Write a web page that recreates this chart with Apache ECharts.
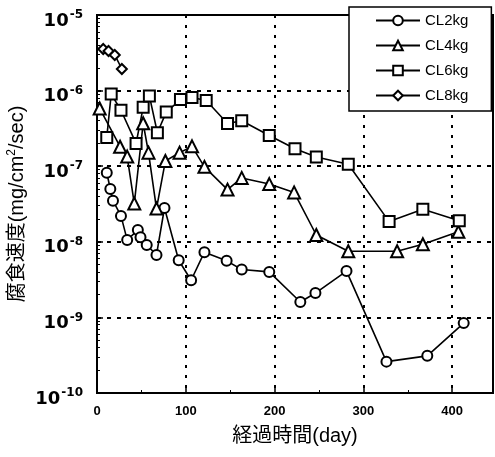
<!DOCTYPE html>
<html>
<head>
<meta charset="utf-8">
<script src="https://cdn.jsdelivr.net/npm/echarts@6/dist/echarts.min.js"></script>
<style>
  html, body { margin: 0; padding: 0; background: #fff; }
  #chart { width: 495px; height: 457px; }
</style>
</head>
<body>
<div id="chart"></div>
<script>
// values (day, mg/cm2/sec)
var cl2Days = [11, 15, 18, 27, 34, 46, 49, 56, 67, 76, 92, 106, 121, 146, 163, 194, 229, 246, 281, 326, 372, 413];
var cl2Vals = [8.2e-8, 5.0e-8, 3.5e-8, 2.2e-8, 1.06e-8, 1.43e-8, 1.15e-8, 9.1e-9, 6.7e-9, 2.8e-8, 5.7e-9, 3.1e-9,
               7.3e-9, 5.6e-9, 4.3e-9, 4.0e-9, 1.6e-9, 2.1e-9, 4.1e-9, 2.6e-10, 3.1e-10, 8.4e-10];

var cl4Days = [3, 26, 34, 42, 52, 58, 67, 77, 93, 107, 121, 147, 163, 194, 222, 247, 283, 338, 367, 407];
var cl4Vals = [5.8e-7, 1.81e-7, 1.34e-7, 3.2e-8, 3.7e-7, 1.51e-7, 2.75e-8, 1.17e-7, 1.51e-7, 1.83e-7,
               9.8e-8, 4.9e-8, 7.0e-8, 5.8e-8, 4.5e-8, 1.23e-8, 7.5e-9, 7.5e-9, 9.3e-9, 1.36e-8];

var cl6Days = [11, 16, 27, 44, 52, 59, 68, 78, 94, 107, 123, 147, 163, 194, 223, 247, 283, 329, 367, 408];
var cl6Vals = [2.4e-7, 9.0e-7, 5.5e-7, 2.0e-7, 6.0e-7, 8.5e-7, 2.77e-7, 5.2e-7, 7.6e-7, 8.1e-7,
               7.4e-7, 3.67e-7, 4.0e-7, 2.55e-7, 1.7e-7, 1.32e-7, 1.06e-7, 1.85e-8, 2.7e-8, 1.9e-8];

var cl8Days = [7, 13, 20, 28];
var cl8Vals = [3.55e-6, 3.34e-6, 2.96e-6, 1.93e-6];

var xTicks = [0, 100, 200, 300, 400];
var yDecades = [-10, -9, -8, -7, -6, -5];

var FONT = "'Liberation Sans', 'Noto Sans CJK JP', sans-serif";
var NUMFONT = "'DejaVu Sans', sans-serif";

// minor log ticks (2..9 within each decade), placed on a helper axis in exponent units
var minorTicks = [];
for (var e = yDecades[0]; e < yDecades[yDecades.length - 1]; e++) {
  for (var k = 2; k <= 9; k++) minorTicks.push(e + Math.log10(k));
}

function mkSeries(name, days, vals, symbol, size) {
  return {
    name: name,
    type: 'line',
    data: days.map(function (d, i) { return [d, vals[i]]; }),
    symbol: symbol,
    symbolSize: size,
    showSymbol: true,
    lineStyle: { color: '#000', width: 1.6 },
    itemStyle: { color: '#fff', borderColor: '#000', borderWidth: 2 },
    emphasis: { disabled: true },
    animation: false
  };
}

var chart = echarts.init(document.getElementById('chart'));
chart.setOption({
  backgroundColor: '#fff',
  textStyle: { fontFamily: FONT },
  grid: {
    left: 97, right: 2, top: 15, bottom: 64,
    outerBoundsMode: 'none', containLabel: false,
    show: true, borderColor: '#000', borderWidth: 2, backgroundColor: 'transparent'
  },
  legend: {
    orient: 'vertical',
    left: 349, top: 7,
    padding: [6, 23, 8, 26],
    itemWidth: 44, itemHeight: 12, itemGap: 10,
    backgroundColor: '#fff', borderColor: '#000', borderWidth: 1.5,
    textStyle: { fontSize: 15, color: '#000', fontFamily: FONT },
    data: ['CL2kg', 'CL4kg', 'CL6kg', 'CL8kg']
  },
  xAxis: {
    type: 'value',
    min: 0, max: 446, interval: 100,
    name: '経過時間(day)',
    nameLocation: 'middle',
    nameGap: 33,
    nameMoveOverlap: false,
    nameTextStyle: { fontSize: 20, color: '#000', fontFamily: FONT },
    axisLine: { lineStyle: { color: '#000', width: 2 } },
    axisTick: { inside: true, length: 5, lineStyle: { color: '#000', width: 1.5 } },
    minorTick: { show: true, splitNumber: 2, length: 3, lineStyle: { color: '#000' } },
    axisLabel: {
      margin: 12, fontSize: 13, fontWeight: 'bold', color: '#000', showMaxLabel: false,
      formatter: function (v) { return xTicks.indexOf(v) >= 0 ? String(v) : ''; }
    },
    splitLine: { show: true, lineStyle: { color: '#000', width: 2, type: [3, 7] } }
  },
  yAxis: [{
    type: 'log',
    logBase: 10,
    min: 1e-10, max: 1e-5,
    name: '腐食速度(mg/cm{sup|2}/sec)',
    nameLocation: 'middle',
    nameRotate: 90,
    nameGap: 69,
    nameMoveOverlap: false,
    nameTextStyle: {
      fontSize: 20, color: '#000', fontFamily: FONT,
      rich: { sup: { fontSize: 12, color: '#000', padding: [0, 0, 10, 0], fontFamily: FONT } }
    },
    axisLine: { show: true, lineStyle: { color: '#000', width: 2 } },
    axisTick: { inside: true, length: 6, lineStyle: { color: '#000', width: 1.5 } },
    axisLabel: {
      margin: 14, color: '#000',
      padding: [12, 0, 0, 0],
      formatter: function (v) {
        var ex = Math.round(Math.log10(v));
        return '{b|10}{s|' + ex + '}';
      },
      rich: {
        b: { fontSize: 18, fontWeight: 'bold', color: '#000', fontFamily: NUMFONT },
        s: { fontSize: 12, fontWeight: 'bold', color: '#000', fontFamily: NUMFONT, padding: [0, 0, 12, 1] }
      }
    },
    splitLine: { show: true, lineStyle: { color: '#000', width: 2, type: [4, 6] } }
  }, {
    type: 'value',
    min: yDecades[0], max: yDecades[yDecades.length - 1],
    position: 'left',
    axisLine: { show: false },
    axisLabel: { show: false },
    splitLine: { show: false },
    axisTick: { show: true, inside: true, length: 3, customValues: minorTicks, lineStyle: { color: '#000', width: 1 } }
  }],
  series: [
    mkSeries('CL2kg', cl2Days, cl2Vals, 'circle', 10),
    mkSeries('CL4kg', cl4Days, cl4Vals, 'triangle', 12),
    mkSeries('CL6kg', cl6Days, cl6Vals, 'rect', 11),
    mkSeries('CL8kg', cl8Days, cl8Vals, 'diamond', 10)
  ]
});
</script>
</body>
</html>
